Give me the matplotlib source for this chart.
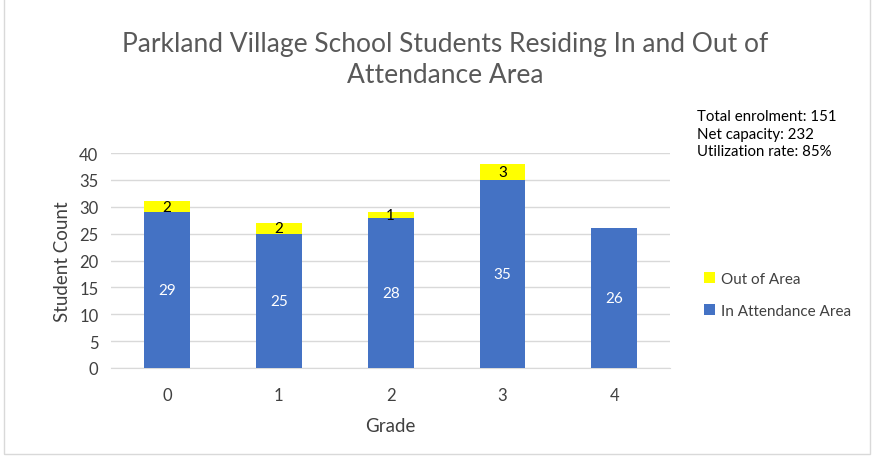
import matplotlib

matplotlib.use("Agg")
import matplotlib.pyplot as plt
from matplotlib.patches import Rectangle

grades = ["0", "1", "2", "3", "4"]
in_area = [29, 25, 28, 35, 26]
out_area = [2, 2, 1, 3, 0]
notes = ["Total enrolment: 151", "Net capacity: 232", "Utilization rate: 85%"]

plt.rcParams["font.family"] = ["Lato", "DejaVu Sans"]

fig = plt.figure(figsize=(8.74, 4.6), dpi=100)
ax = fig.add_axes([0.127, 0.198, 0.64, 0.467])

x = range(len(grades))
width = 0.41
blue = ax.bar(x, in_area, width, color="#4472C4", label="In Attendance Area", zorder=3)
yellow = ax.bar(x, out_area, width, bottom=in_area, color="#FFFF00", label="Out of Area", zorder=3)

for i, (a, b) in enumerate(zip(in_area, out_area)):
    ax.text(i, a / 2, str(a), ha="center", va="center", color="white", fontsize=11, zorder=4)
    if b:
        ax.text(i, a + b / 2, str(b), ha="center", va="center", color="black", fontsize=11, zorder=4)

ax.set_xlim(-0.5, len(grades) - 0.5)
ax.set_ylim(0, 40)
ax.set_yticks(range(0, 41, 5))
ax.set_xticks(list(x))
ax.set_xticklabels(grades)
ax.grid(axis="y", color="#D9D9D9", linewidth=1, zorder=0)
for side in ["top", "right", "left"]:
    ax.spines[side].set_visible(False)
ax.spines["bottom"].set_color("#D9D9D9")
ax.tick_params(length=0, labelsize=12, labelcolor="#404040", pad=9)
ax.tick_params(axis="x", pad=14)
ax.set_xlabel("Grade", fontsize=13.5, color="#404040", labelpad=10)
ax.set_ylabel("Student Count", fontsize=13.5, color="#404040", labelpad=6)

fig.text(0.509, 0.87, "Parkland Village School Students Residing In and Out of\nAttendance Area",
         ha="center", va="center", fontsize=19, color="#595959", linespacing=1.32)
fig.text(0.797, 0.76, "\n".join(notes), ha="left", va="top", fontsize=10.8,
         color="black", linespacing=1.3)

fig.legend([yellow, blue], ["Out of Area", "In Attendance Area"], loc="upper left",
           bbox_to_anchor=(0.79, 0.437), frameon=False, fontsize=11,
           handlelength=0.7, handleheight=0.7, handletextpad=0.4, labelspacing=1.2,
           labelcolor="#404040")

fig.patches.append(Rectangle((0.005, 0.01), 0.99, 1.2, transform=fig.transFigure,
                             fill=False, edgecolor="#D9D9D9", linewidth=1))

fig.savefig("out.png", dpi=100)
